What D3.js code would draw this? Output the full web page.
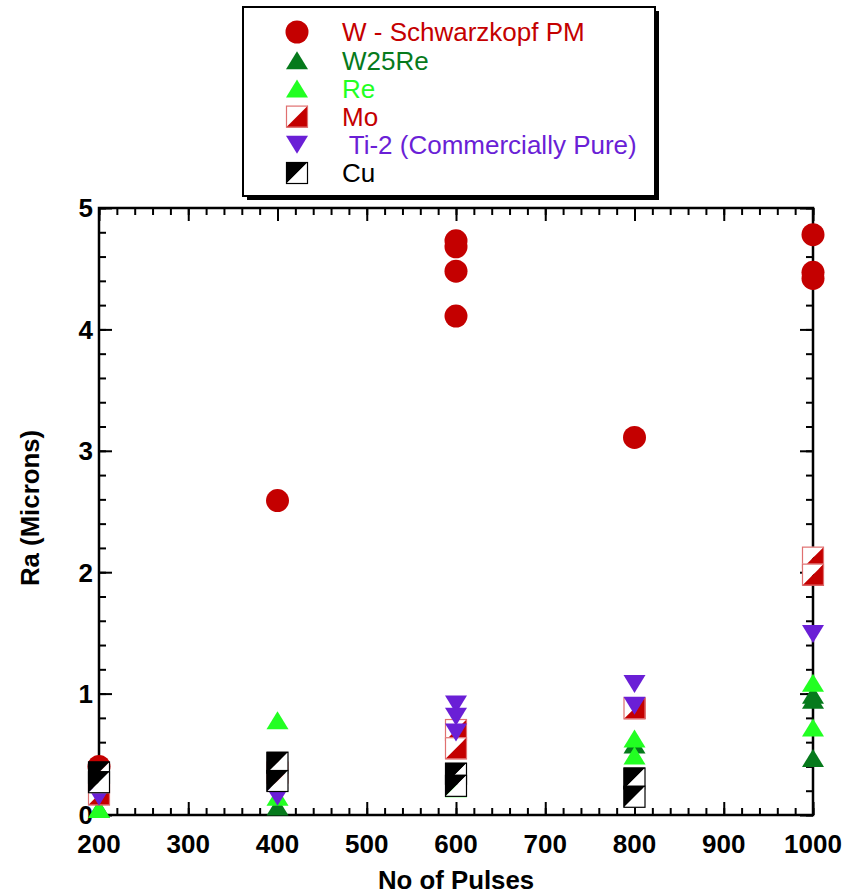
<!DOCTYPE html>
<html>
<head>
<meta charset="utf-8">
<script src="https://cdn.jsdelivr.net/npm/d3@7"></script>
<style>
  body { margin: 0; background: #fff; }
  svg { display: block; font-family: "Liberation Sans", Arial, sans-serif; }
</style>
</head>
<body>
<svg id="chart" width="846" height="893"></svg>
<script>
// data
const xTicks = [200, 300, 400, 500, 600, 700, 800, 900, 1000];
const yTicks = [0, 1, 2, 3, 4, 5];

const wPulses = [200, 400, 600, 600, 600, 600, 800, 1000, 1000, 1000];
const wRa     = [0.40, 2.59, 4.73, 4.68, 4.48, 4.11, 3.11, 4.78, 4.47, 4.42];

const w25RePulses = [200, 400, 600, 800, 1000, 1000, 1000];
const w25ReRa     = [0.05, 0.07, 0.25, 0.58, 0.99, 0.95, 0.47];

const rePulses = [200, 400, 400, 600, 800, 800, 1000, 1000];
const reRa     = [0.05, 0.78, 0.15, 0.22, 0.63, 0.49, 1.09, 0.72];

const moPulses = [200, 400, 600, 600, 800, 1000, 1000];
const moRa     = [0.17, 0.35, 0.70, 0.55, 0.88, 2.12, 1.98];

const tiPulses = [200, 400, 600, 600, 600, 800, 800, 1000];
const tiRa     = [0.15, 0.15, 0.91, 0.81, 0.68, 1.08, 0.90, 1.49];

const cuPulses = [200, 200, 400, 400, 600, 600, 800, 800];
const cuRa     = [0.35, 0.27, 0.43, 0.28, 0.34, 0.24, 0.30, 0.15];

const series = [
    { name: "W - Schwarzkopf PM", shape: "circle", color: "#c40000", x: wPulses, y: wRa },
    { name: "W25Re", shape: "up", color: "#067a1c", x: w25RePulses, y: w25ReRa },
    { name: "Re", shape: "up", color: "#22ff22", x: rePulses, y: reRa },
    { name: "Mo", shape: "half", color: "#c40000", fillA: "#ffffff", fillB: "#c40000", edge: "#e07070", x: moPulses, y: moRa },
    { name: " Ti-2 (Commercially Pure)", shape: "down", color: "#6a1fd6", x: tiPulses, y: tiRa },
    { name: "Cu", shape: "half", color: "#000000", fillA: "#000000", fillB: "#ffffff", edge: "#000000", x: cuPulses, y: cuRa }
];

const svg = d3.select("#chart");
const plotL = 99, plotR = 813, plotT = 208, plotB = 815;

const x = d3.scaleLinear().domain([200, 1000]).range([plotL, plotR]);
const y = d3.scaleLinear().domain([0, 5]).range([plotB, plotT]);

const minorX = d3.range(200, 1001, 20);
const minorY = d3.range(0, 5.001, 0.2);

// axes, ticks pointing inward on all four sides
function addAxis(axisFn, scale, tx, ty, values, size) {
    const g = svg.append("g")
        .attr("transform", `translate(${tx},${ty})`)
        .call(axisFn(scale).tickValues(values).tickSize(size).tickFormat(""));
    g.select(".domain").remove();
    g.selectAll(".tick line").attr("stroke", "#000").attr("stroke-width", 2);
    return g;
}

addAxis(d3.axisBottom, x, 0, plotB, minorX, -7);
addAxis(d3.axisBottom, x, 0, plotB, xTicks, -13);
addAxis(d3.axisTop, x, 0, plotT, minorX, -7);
addAxis(d3.axisTop, x, 0, plotT, xTicks, -13);
addAxis(d3.axisLeft, y, plotL, 0, minorY, -7);
addAxis(d3.axisLeft, y, plotL, 0, yTicks, -13);
addAxis(d3.axisRight, y, plotR, 0, minorY, -7);
addAxis(d3.axisRight, y, plotR, 0, yTicks, -13);

svg.append("rect")
    .attr("x", plotL).attr("y", plotT)
    .attr("width", plotR - plotL).attr("height", plotB - plotT)
    .attr("fill", "none").attr("stroke", "#000").attr("stroke-width", 2.5);

// tick labels
svg.append("g").selectAll("text")
    .data(xTicks)
    .join("text")
    .attr("x", d => x(d))
    .attr("y", 853)
    .attr("text-anchor", "middle")
    .attr("font-size", 26)
    .attr("font-weight", "bold")
    .text(d => d);

svg.append("g").selectAll("text")
    .data(yTicks)
    .join("text")
    .attr("x", 93)
    .attr("y", d => y(d))
    .attr("dy", "0.36em")
    .attr("text-anchor", "end")
    .attr("font-size", 26)
    .attr("font-weight", "bold")
    .text(d => d);

svg.append("text")
    .attr("x", 456).attr("y", 889)
    .attr("text-anchor", "middle")
    .attr("font-size", 25.8)
    .attr("font-weight", "bold")
    .text("No of Pulses");

svg.append("text")
    .attr("transform", "translate(39,508) rotate(-90)")
    .attr("text-anchor", "middle")
    .attr("font-size", 25.8)
    .attr("font-weight", "bold")
    .text("Ra (Microns)");

// markers
function drawMarker(g, s) {
    if (s.shape === "circle") {
        g.append("circle").attr("r", 11.5).attr("fill", s.color);
    } else if (s.shape === "up") {
        g.append("path").attr("d", "M0,-9L11,9L-11,9Z").attr("fill", s.color);
    } else if (s.shape === "down") {
        g.append("path").attr("d", "M0,9L11,-9L-11,-9Z").attr("fill", s.color);
    } else {
        g.append("path").attr("d", "M-11,-11L11,-11L-11,11Z").attr("fill", s.fillA);
        g.append("path").attr("d", "M11,-11L11,11L-11,11Z").attr("fill", s.fillB);
        g.append("rect")
            .attr("x", -10.5).attr("y", -10.5).attr("width", 21).attr("height", 21)
            .attr("fill", "none").attr("stroke", s.edge).attr("stroke-width", 1.2);
    }
}

series.forEach(s => {
    const pts = s.x.map((p, i) => [p, s.y[i]]);
    svg.append("g").selectAll("g")
        .data(pts)
        .join("g")
        .attr("transform", d => `translate(${x(d[0])},${y(d[1])})`)
        .each(function() { drawMarker(d3.select(this), s); });
});

// legend box with drop shadow
const legend = svg.append("g");
legend.append("rect")
    .attr("x", 247).attr("y", 11).attr("width", 412).attr("height", 189)
    .attr("fill", "#000");
legend.append("rect")
    .attr("x", 243).attr("y", 7).attr("width", 412).attr("height", 189)
    .attr("fill", "#fff").attr("stroke", "#000").attr("stroke-width", 2);

const rowY = d3.scalePoint().domain(series.map(s => s.name)).range([32, 173]);

series.forEach(s => {
    const g = legend.append("g").attr("transform", `translate(297,${rowY(s.name)})`);
    drawMarker(g, s);
    legend.append("text")
        .attr("x", 342)
        .attr("y", rowY(s.name))
        .attr("dy", "0.36em")
        .attr("font-size", 26)
        .attr("fill", s.color)
        .style("white-space", "pre")
        .text(s.name);
});
</script>
</body>
</html>
